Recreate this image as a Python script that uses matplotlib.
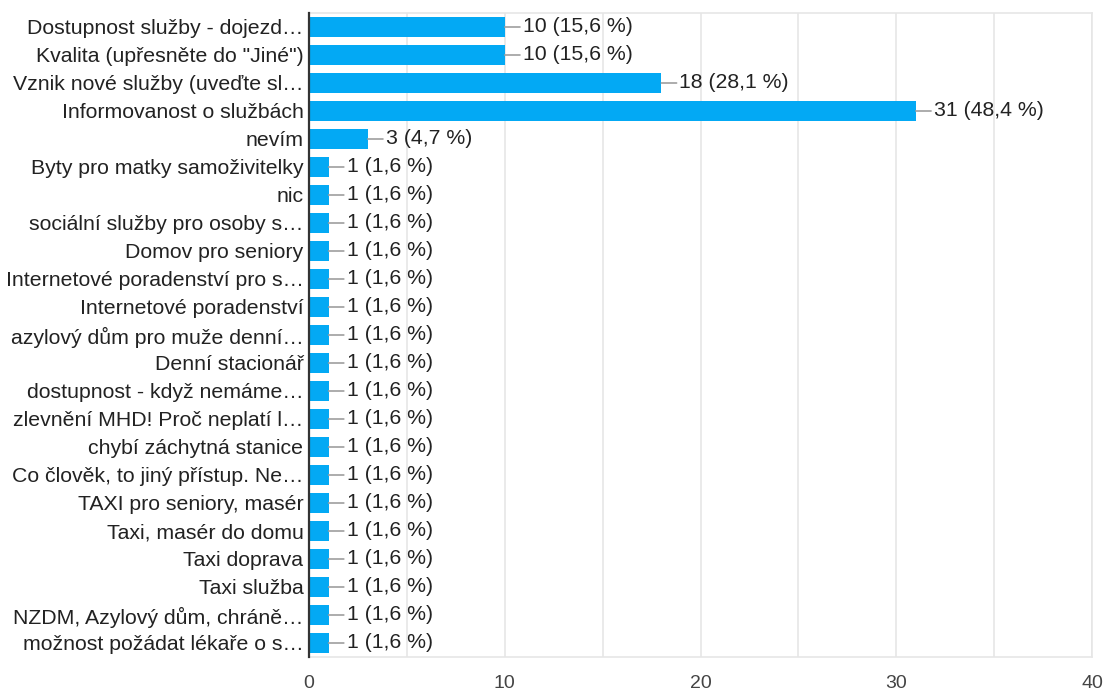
import matplotlib
matplotlib.use("Agg")
import matplotlib.pyplot as plt
from matplotlib.ticker import MultipleLocator

categories = [
    "Dostupnost služby - dojezd…",
    "Kvalita (upřesněte do \"Jiné\")",
    "Vznik nové služby (uveďte sl…",
    "Informovanost o službách",
    "nevím",
    "Byty pro matky samoživitelky",
    "nic",
    "sociální služby pro osoby s…",
    "Domov pro seniory",
    "Internetové poradenství pro s…",
    "Internetové poradenství",
    "azylový dům pro muže denní…",
    "Denní stacionář",
    "dostupnost - když nemáme…",
    "zlevnění MHD! Proč neplatí l…",
    "chybí záchytná stanice",
    "Co člověk, to jiný přístup. Ne…",
    "TAXI pro seniory, masér",
    "Taxi, masér do domu",
    "Taxi doprava",
    "Taxi služba",
    "NZDM, Azylový dům, chráně…",
    "možnost požádat lékaře o s…",
]
counts = [10, 10, 18, 31, 3] + [1] * 18
percents = ["15,6", "15,6", "28,1", "48,4", "4,7"] + ["1,6"] * 18
xticks = [0, 10, 20, 30, 40]

plt.rcParams['font.family'] = ['Liberation Sans', 'DejaVu Sans']
FS = 15.3

fig = plt.figure(figsize=(11.03, 6.91), dpi=100)
ax = fig.add_axes([309/1103, 1 - 657/691, (1092-309)/1103, (657-13)/691])

ypos = list(range(len(categories)))
ax.barh(ypos, counts, height=0.72, color="#03a9f4", zorder=3)

for y, c, p in zip(ypos, counts, percents):
    ax.annotate(f"{c} ({p} %)", xy=(c, y), xytext=(18, 0), textcoords="offset pixels",
                ha="left", va="center", fontsize=FS, color="#222222",
                arrowprops=dict(arrowstyle="-", color="#9e9e9e", lw=1.2,
                                shrinkA=0, shrinkB=0), zorder=4)

ax.set_xlim(0, 40)
ax.set_ylim(len(categories) - 0.5, -0.5)
ax.set_yticks(ypos)
ax.set_yticklabels(categories, fontsize=FS, color="#222222")
ax.set_xticks(xticks)
ax.set_xticklabels([str(t) for t in xticks], fontsize=14, color="#444444")
ax.xaxis.set_minor_locator(MultipleLocator(5))
ax.grid(axis="x", which="both", color="#e6e6e6", lw=1.2, zorder=0)
ax.tick_params(axis="both", which="both", length=0)
ax.tick_params(axis="x", pad=13)
ax.tick_params(axis="y", pad=4)

for s in ["top", "right", "bottom"]:
    ax.spines[s].set_color("#e6e6e6")
    ax.spines[s].set_linewidth(1.2)
ax.spines["left"].set_color("#333333")
ax.spines["left"].set_linewidth(1.6)
ax.spines["left"].set_zorder(5)

fig.savefig("out.png", dpi=100)
